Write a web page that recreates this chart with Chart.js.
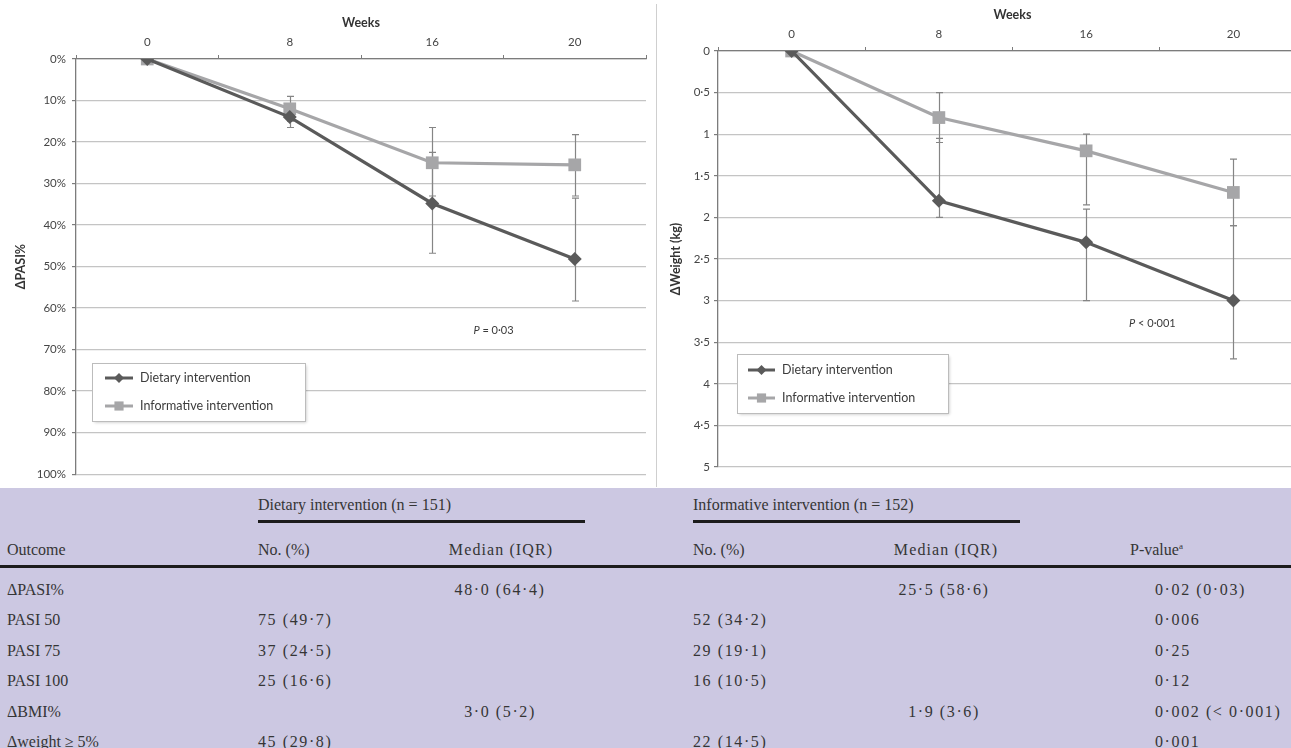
<!DOCTYPE html>
<html><head><meta charset="utf-8">
<script src="https://cdn.jsdelivr.net/npm/chart.js@4.4.1/dist/chart.umd.min.js"></script>
<style>
html,body{margin:0;padding:0;width:1291px;height:748px;overflow:hidden;background:#fff;}
#c1{position:absolute;left:0;top:0;}
#c2{position:absolute;left:657px;top:0;}
#sep{position:absolute;left:656px;top:4px;width:1px;height:483px;background:#cfcfcf;}
#tbl{position:absolute;left:0;top:488px;width:1291px;height:260px;background:#ccc8e2;font-family:"Liberation Serif","DejaVu Serif",serif;font-size:16px;color:#353535;overflow:hidden;}
.t{position:absolute;white-space:nowrap;line-height:1;transform:translateY(-50%);}
.c{transform:translate(-50%,-50%);}
.n{letter-spacing:1.6px;}
.m{letter-spacing:1.1px;}
.rule{position:absolute;height:3px;background:#1c1c1c;}
sup{font-size:9px;vertical-align:6px;}
</style></head>
<body>
<canvas id="c1" width="655" height="487"></canvas>
<div id="sep"></div>
<canvas id="c2" width="660" height="487"></canvas>
<div id="tbl"></div>
<script>
// ---------- chart data ----------
const weeks = ['0', '8', '16', '20'];
const seriesNames = ['Dietary intervention', 'Informative intervention'];
const pasiTickLabels = ['0%','10%','20%','30%','40%','50%','60%','70%','80%','90%','100%'];
const weightTickLabels = ['0','0·5','1','1·5','2','2·5','3','3·5','4','4·5','5'];

const dietaryPasi = [0, 14, 34.8, 48.2];
const informativePasi = [0, 12, 25, 25.5];
const dietaryPasiLow = [null, 11.5, 22.5, 33.5];
const dietaryPasiHigh = [null, 16.5, 46.8, 58.3];
const informativePasiLow = [null, 9, 16.5, 18.2];
const informativePasiHigh = [null, 15, 33, 33];

const dietaryWeight = [0, 1.8, 2.3, 3.0];
const informativeWeight = [0, 0.8, 1.2, 1.7];
const dietaryWeightLow = [null, 1.05, 1.9, 2.1];
const dietaryWeightHigh = [null, 2.0, 3.0, 3.7];
const informativeWeightLow = [null, 0.5, 1.0, 1.3];
const informativeWeightHigh = [null, 1.1, 1.85, 2.1];

// ---------- table data ----------
const groupHeaders = ['Dietary intervention (n = 151)', 'Informative intervention (n = 152)'];
const columnHeaders = ['Outcome', 'No. (%)', 'Median (IQR)', 'No. (%)', 'Median (IQR)', 'P-value'];
const outcomes = ['ΔPASI%', 'PASI 50', 'PASI 75', 'PASI 100', 'ΔBMI%', 'Δweight ≥ 5%'];
const dietaryNo = ['', '75 (49·7)', '37 (24·5)', '25 (16·6)', '', '45 (29·8)'];
const dietaryMedian = ['48·0 (64·4)', '', '', '', '3·0 (5·2)', ''];
const informativeNo = ['', '52 (34·2)', '29 (19·1)', '16 (10·5)', '', '22 (14·5)'];
const informativeMedian = ['25·5 (58·6)', '', '', '', '1·9 (3·6)', ''];
const pValues = ['0·02 (0·03)', '0·006', '0·25', '0·12', '0·002 (< 0·001)', '0·001'];

// ---------- styles ----------
const DARK = '#5a5a5a', LIGHT = '#a6a6a8', AXIS = '#7c7c7c', GRID = '#c4c4c4';
const FONT = 'Lato';

const errorBarPlugin = {
  id: 'errorBars',
  beforeDatasetsDraw(chart, args, o) {
    const {ctx, scales: {x, y}} = chart;
    ctx.save();
    ctx.strokeStyle = o.color; ctx.lineWidth = o.width;
    o.bars.forEach(b => {
      b.low.forEach((lo, i) => {
        const hi = b.high[i];
        if (lo == null || hi == null) return;
        const px = Math.round(x.getPixelForValue(i)) + 0.5;
        const y1 = y.getPixelForValue(lo), y2 = y.getPixelForValue(hi);
        ctx.beginPath();
        ctx.moveTo(px, y1); ctx.lineTo(px, y2);
        ctx.moveTo(px - o.cap, y1); ctx.lineTo(px + o.cap, y1);
        ctx.moveTo(px - o.cap, y2); ctx.lineTo(px + o.cap, y2);
        ctx.stroke();
      });
    });
    ctx.restore();
  }
};

const boxLegendPlugin = {
  id: 'boxLegend',
  afterDraw(chart, args, o) {
    const {ctx, chartArea} = chart;
    const x0 = Math.round(chartArea.left + o.dx), y0 = Math.round(chartArea.top + o.dy);
    ctx.save();
    ctx.shadowColor = 'rgba(0,0,0,0.22)'; ctx.shadowBlur = 3; ctx.shadowOffsetX = 1.5; ctx.shadowOffsetY = 1.5;
    ctx.fillStyle = '#fff'; ctx.fillRect(x0, y0, o.w, o.h);
    ctx.shadowColor = 'transparent';
    ctx.strokeStyle = '#bcbcbc'; ctx.lineWidth = 1; ctx.strokeRect(x0 + 0.5, y0 + 0.5, o.w, o.h);
    chart.data.datasets.forEach((ds, i) => {
      const cy = y0 + o.firstY + i * o.rowH;
      const lx = x0 + o.lineX;
      ctx.strokeStyle = ds.borderColor; ctx.lineWidth = 3;
      ctx.beginPath(); ctx.moveTo(lx, cy); ctx.lineTo(lx + o.lineW, cy); ctx.stroke();
      ctx.fillStyle = ds.pointBackgroundColor;
      Chart.helpers.drawPoint(ctx, {pointStyle: ds.pointStyle, radius: ds.pointRadius * 0.72, borderWidth: 0, rotation: 0}, lx + o.lineW / 2, cy);
      ctx.fillStyle = '#3c3c3c';
      ctx.font = '12.5px ' + FONT; ctx.textBaseline = 'middle'; ctx.textAlign = 'left';
      ctx.fillText(ds.label, x0 + o.textX, cy);
    });
    ctx.restore();
  }
};

const pNotePlugin = {
  id: 'pNote',
  afterDraw(chart, args, o) {
    const {ctx, scales: {x, y}} = chart;
    const px = x.getPixelForValue(o.xv), py = y.getPixelForValue(o.yv);
    ctx.save();
    ctx.fillStyle = '#3a3a3a'; ctx.textBaseline = 'middle'; ctx.textAlign = 'left';
    ctx.font = 'italic 11px ' + FONT; const w1 = ctx.measureText('P').width;
    ctx.font = '11px ' + FONT; const w2 = ctx.measureText(o.rest).width;
    const sx = px - (w1 + w2) / 2;
    ctx.font = 'italic 11px ' + FONT; ctx.fillText('P', sx, py);
    ctx.font = '11px ' + FONT; ctx.fillText(o.rest, sx + w1, py);
    ctx.restore();
  }
};

function dataset(label, data, color, style, radius) {
  return {label, data, borderColor: color, backgroundColor: color, borderWidth: 3.2,
    pointStyle: style, pointRadius: radius, pointHoverRadius: radius,
    pointBackgroundColor: color, pointBorderColor: color, pointBorderWidth: 0, tension: 0};
}

function buildChart(id, cfg) {
  return new Chart(document.getElementById(id), {
    type: 'line',
    data: {labels: weeks, datasets: [
      dataset(seriesNames[0], cfg.dietary, DARK, 'rectRot', 7),
      dataset(seriesNames[1], cfg.informative, LIGHT, 'rect', 9)
    ]},
    plugins: [errorBarPlugin, boxLegendPlugin, pNotePlugin],
    options: {
      responsive: false, animation: false, devicePixelRatio: 1,
      layout: {padding: cfg.padding},
      plugins: {
        legend: {display: false}, tooltip: {enabled: false},
        errorBars: {color: '#858585', width: 1.2, cap: 3.5, bars: cfg.bars},
        boxLegend: cfg.legend,
        pNote: cfg.note
      },
      scales: {
        x: {
          type: 'category', position: 'top', offset: true,
          grid: {offset: true, drawOnChartArea: false, drawTicks: true, tickLength: 4, color: AXIS, tickColor: AXIS},
          border: {display: true, color: AXIS, width: 1.3},
          ticks: {font: {family: FONT, size: 11.5}, color: '#454545', padding: 6},
          title: {display: true, text: 'Weeks', font: {family: FONT, size: 12.5, weight: 'bold'}, color: '#333', padding: {top: cfg.xTitlePad, bottom: 0}},
          afterFit(s) { s.height = cfg.xHeight; }
        },
        y: {
          reverse: true, min: cfg.min, max: cfg.max,
          grid: {color: GRID, lineWidth: 1.2, tickLength: 4, tickColor: AXIS},
          border: {display: true, color: AXIS, width: 1.3},
          ticks: {stepSize: cfg.step, autoSkip: false, font: {family: FONT, size: 11.5}, color: '#454545', padding: cfg.yTickPad,
                  callback: (v) => cfg.tickLabels[Math.round((v - cfg.min) / cfg.step)]},
          title: {display: true, text: cfg.yTitle, font: {family: FONT, size: 12.5, weight: 'bold'}, color: '#333', padding: {top: cfg.yTitlePad, bottom: 0}},
          afterFit(s) { s.width = cfg.yWidth; }
        }
      }
    }
  });
}

buildChart('c1', {
  dietary: dietaryPasi, informative: informativePasi,
  min: 0, max: 100, step: 10, tickLabels: pasiTickLabels, yTitle: 'ΔPASI%',
  padding: {left: 0, right: 9, top: 0, bottom: 10},
  xHeight: 59, yWidth: 76, xTitlePad: 15, yTitlePad: 13, yTickPad: 6,
  bars: [{low: informativePasiLow, high: informativePasiHigh}, {low: dietaryPasiLow, high: dietaryPasiHigh}],
  legend: {dx: 16, dy: 304, w: 213, h: 58, firstY: 15, rowH: 28, lineX: 13, lineW: 28, textX: 48},
  note: {xv: 2.43, yv: 65.5, rest: ' = 0·03'}
});

buildChart('c2', {
  dietary: dietaryWeight, informative: informativeWeight,
  min: 0, max: 5, step: 0.5, tickLabels: weightTickLabels, yTitle: 'ΔWeight (kg)',
  padding: {left: 0, right: 10, top: 0, bottom: 20},
  xHeight: 51, yWidth: 61, xTitlePad: 7, yTitlePad: 11, yTickPad: 4,
  bars: [{low: informativeWeightLow, high: informativeWeightHigh}, {low: dietaryWeightLow, high: dietaryWeightHigh}],
  legend: {dx: 19, dy: 303, w: 211, h: 59, firstY: 16, rowH: 28, lineX: 11, lineW: 27, textX: 45},
  note: {xv: 2.45, yv: 3.27, rest: ' < 0·001'}
});

// ---------- table ----------
(function () {
  const tbl = document.getElementById('tbl');
  const top = 488;
  function txt(s, x, y, cls) {
    const d = document.createElement('div');
    d.className = 't' + (cls ? ' ' + cls : '');
    d.style.left = x + 'px'; d.style.top = (y - top) + 'px';
    d.innerHTML = s;
    tbl.appendChild(d);
  }
  function rule(x, y, w) {
    const d = document.createElement('div');
    d.className = 'rule';
    d.style.left = x + 'px'; d.style.top = (y - top) + 'px'; d.style.width = w + 'px';
    tbl.appendChild(d);
  }
  txt(groupHeaders[0], 258, 505);
  txt(groupHeaders[1], 693, 505);
  rule(258, 520, 327);
  rule(693, 520, 327);
  const hy = 550;
  txt(columnHeaders[0], 7, hy);
  txt(columnHeaders[1], 258, hy);
  txt(columnHeaders[2], 501, hy, 'c m');
  txt(columnHeaders[3], 693, hy);
  txt(columnHeaders[4], 946, hy, 'c m');
  txt(columnHeaders[5] + '<sup>a</sup>', 1130, hy);
  rule(0, 565, 1291);
  outcomes.forEach((o, i) => {
    const y = 590 + i * 30.4;
    txt(o, 7, y);
    if (dietaryNo[i]) txt(dietaryNo[i], 258, y, 'n');
    if (dietaryMedian[i]) txt(dietaryMedian[i], 500, y, 'c n');
    if (informativeNo[i]) txt(informativeNo[i], 693, y, 'n');
    if (informativeMedian[i]) txt(informativeMedian[i], 944, y, 'c n');
    txt(pValues[i], 1155, y, 'n');
  });
})();
</script>
</body></html>
